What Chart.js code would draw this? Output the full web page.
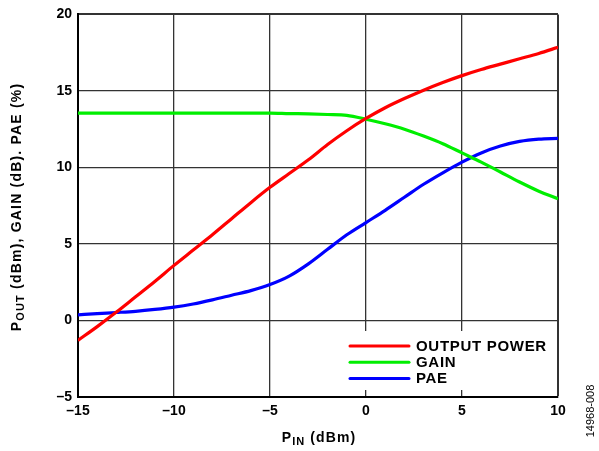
<!DOCTYPE html>
<html>
<head>
<meta charset="utf-8">
<script src="https://cdn.jsdelivr.net/npm/chart.js@4.4.1/dist/chart.umd.min.js"></script>
<style>
  html, body { margin: 0; padding: 0; background: #fff; }
  #wrap { width: 599px; height: 451px; position: relative; }
</style>
</head>
<body>
<div id="wrap"><canvas id="pa"></canvas></div>
<script>
// input power sweep, dBm
const pin = [-15, -14, -13, -12, -11, -10, -9, -8, -7, -6, -5, -4, -3, -2, -1, 0, 1, 2, 3, 4, 5, 6, 7, 8, 9, 10];
// output power, dBm
const pout = [-1.3, -0.4, 0.55, 1.55, 2.55, 3.6, 4.6, 5.6, 6.65, 7.7, 8.7, 9.6, 10.5, 11.5, 12.4, 13.2, 13.9, 14.5, 15.05, 15.55, 16.0, 16.4, 16.75, 17.1, 17.45, 17.85];
// gain, dB
const gain = [13.55, 13.55, 13.55, 13.55, 13.55, 13.55, 13.55, 13.55, 13.55, 13.55, 13.55, 13.52, 13.5, 13.46, 13.4, 13.15, 12.85, 12.5, 12.05, 11.55, 10.95, 10.35, 9.7, 9.05, 8.45, 7.95];
// power added efficiency, %
const pae = [0.37, 0.45, 0.52, 0.6, 0.72, 0.87, 1.08, 1.35, 1.65, 1.95, 2.35, 2.9, 3.7, 4.65, 5.6, 6.4, 7.2, 8.05, 8.9, 9.65, 10.35, 10.95, 11.4, 11.7, 11.85, 11.9];

const seriesNames = ["OUTPUT POWER", "GAIN", "PAE"];
const seriesColors = ["#ff0000", "#00ee00", "#0000ff"];
const xTicks = [-15, -10, -5, 0, 5, 10];
const yTicks = [-5, 0, 5, 10, 15, 20];

const FONT = "Liberation Sans, Arial, Helvetica, sans-serif";
const dash = (v) => String(v).replace("-", "\u2013");

function toPts(ys) {
  return pin.map((x, i) => ({ x: x, y: ys[i] }));
}

// draws "P" + subscript + rest, centered at (0,0) of the current transform
function drawSubText(ctx, main, sub, rest, size, spacing) {
  const big = "bold " + size + "px " + FONT,
    small = "bold " + Math.round(size * 0.78) + "px " + FONT;
  ctx.letterSpacing = spacing + "px";
  ctx.font = big;
  const w1 = ctx.measureText(main).width,
    w3 = ctx.measureText(rest).width;
  ctx.font = small;
  const w2 = ctx.measureText(sub).width;
  let x = -(w1 + w2 + w3) / 2;
  ctx.textBaseline = "middle";
  ctx.textAlign = "left";
  ctx.fillStyle = "#000";
  ctx.font = big;
  ctx.fillText(main, x, 0);
  x += w1;
  ctx.font = small;
  ctx.fillText(sub, x, size * 0.28);
  x += w2;
  ctx.font = big;
  ctx.fillText(rest, x, 0);
  ctx.letterSpacing = "0px";
}

const extras = {
  id: "extras",
  afterDraw(chart) {
    const ctx = chart.ctx,
      ca = chart.chartArea;
    ctx.save();

    // axis titles
    ctx.save();
    ctx.translate(17, 207);
    ctx.rotate(-Math.PI / 2);
    drawSubText(ctx, "P", "OUT", " (dBm), GAIN (dB). PAE (%)", 14, 1.2);
    ctx.restore();

    ctx.save();
    ctx.translate((ca.left + ca.right) / 2 + 1, 438);
    drawSubText(ctx, "P", "IN", " (dBm)", 14, 1.1);
    ctx.restore();

    // legend box inside the plot
    const bx = 336, by = 331, bw = ca.right - 2 - bx, bh = 59;
    ctx.fillStyle = "#fff";
    ctx.fillRect(bx, by, bw, bh);
    chart.data.datasets.forEach((ds, i) => {
      const y = 346 + i * 16.3;
      ctx.strokeStyle = ds.borderColor;
      ctx.lineWidth = 3;
      ctx.lineCap = "round";
      ctx.beginPath();
      ctx.moveTo(350, y);
      ctx.lineTo(409, y);
      ctx.stroke();
      ctx.fillStyle = "#000";
      ctx.font = "bold 15px " + FONT;
      ctx.letterSpacing = "0.7px";
      ctx.textAlign = "left";
      ctx.textBaseline = "middle";
      ctx.fillText(ds.label, 416, y + 0.5);
      ctx.letterSpacing = "0px";
    });

    // figure number
    ctx.save();
    ctx.translate(591, 411);
    ctx.rotate(-Math.PI / 2);
    ctx.font = "11px " + FONT;
    ctx.fillStyle = "#000";
    ctx.textAlign = "center";
    ctx.textBaseline = "middle";
    ctx.fillText("14968-008", 0, 0);
    ctx.restore();

    ctx.restore();
  },
};

const edgeWidth = (max) => (c) => (c.tick && c.tick.value === max ? 2 : 1.3);

new Chart(document.getElementById("pa"), {
  type: "line",
  data: {
    datasets: [pout, gain, pae].map((ys, i) => ({
      label: seriesNames[i],
      data: toPts(ys),
      borderColor: seriesColors[i],
      borderWidth: 3.2,
      pointRadius: 0,
      cubicInterpolationMode: "monotone",
      fill: false,
    })),
  },
  options: {
    responsive: true,
    maintainAspectRatio: false,
    animation: false,
    layout: { padding: { left: 0, top: 14, right: 41, bottom: 0 } },
    plugins: { legend: { display: false }, tooltip: { enabled: false } },
    scales: {
      x: {
        type: "linear",
        min: xTicks[0],
        max: xTicks[xTicks.length - 1],
        afterBuildTicks: (s) => { s.ticks = xTicks.map((v) => ({ value: v })); },
        afterFit: (s) => { s.height = 54; },
        grid: { color: "#333", lineWidth: edgeWidth(10), drawTicks: false },
        border: { color: "#000", width: 2 },
        ticks: {
          padding: 6,
          color: "#000",
          font: { family: FONT, size: 14, weight: "bold" },
          callback: dash,
        },
      },
      y: {
        min: yTicks[0],
        max: yTicks[yTicks.length - 1],
        afterBuildTicks: (s) => { s.ticks = yTicks.map((v) => ({ value: v })); },
        afterFit: (s) => { s.width = 78; },
        grid: { color: "#333", lineWidth: edgeWidth(20), drawTicks: false },
        border: { color: "#000", width: 2 },
        ticks: {
          padding: 6,
          color: "#000",
          font: { family: FONT, size: 14, weight: "bold" },
          callback: dash,
        },
      },
    },
  },
  plugins: [extras],
});
</script>
</body>
</html>
